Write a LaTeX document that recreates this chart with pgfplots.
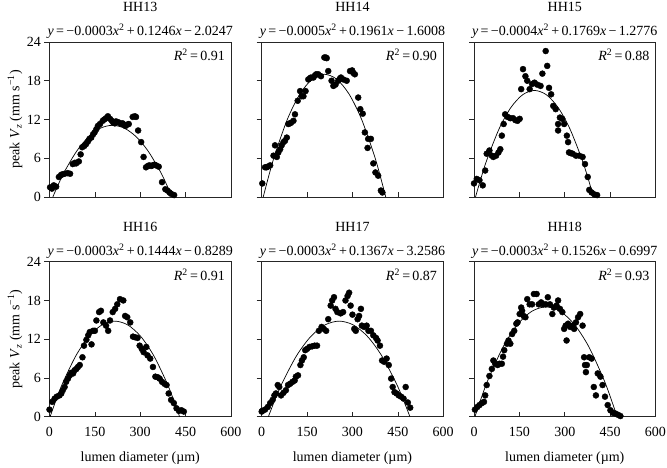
\documentclass[border=0pt]{standalone}
\usepackage{fontspec}
\setmainfont{Liberation Serif}
\usepackage{pgfplots}
\pgfplotsset{compat=1.18}

\newcommand{\fsz}{\fontsize{14}{16}\selectfont}
\pgfplotsset{
  panel/.style={
    scale only axis, width=181.5pt, height=155pt, anchor=south west,
    xmin=0, xmax=600, ymin=0, ymax=24,
    xtick={0,150,...,600}, ytick={0,6,...,24},
    xtick pos=bottom, ytick pos=left,
    xtick align=inside, ytick align=outside,
    major tick length=5pt,
    axis line style={line width=0.6pt, black!85},
    every tick/.style={line width=0.6pt, black!85},
    font=\fsz, tick label style={font=\fsz},
    xticklabel style={yshift=-6.5pt},
    /pgf/number format/assume math mode=true,
    clip=false,
    title style={at={(0.5,1)}, anchor=center, yshift=29pt},
    xlabel style={at={(rel axis cs:0.5,0)}, anchor=center, yshift=-41pt},
    ylabel style={at={(rel axis cs:0,0.5)}, anchor=center, yshift=34.5pt},
  },
  noy/.style={yticklabels={}},
  nox/.style={xticklabels={}},
  dots/.style={only marks, mark=*, mark size=3pt, black},
  fit/.style={no marks, smooth, black, line width=0.7pt},
}
\newcommand{\eqn}[1]{\node[inner sep=0pt] at (rel axis cs:0.5,1) [yshift=10.5pt] {#1};}
\newcommand{\rsq}[1]{\node[inner sep=0pt, anchor=north east] at (rel axis cs:1,1) [xshift=-6pt, yshift=-7pt] {\textit{R}\textsuperscript{2}\,=\,#1};}
\newcommand{\ylab}{peak \textit{V}\textsubscript{\textit{z}} (mm s\textsuperscript{−1})}
\newcommand{\xlab}{lumen diameter (µm)}

\begin{document}
\begin{tikzpicture}
\useasboundingbox (0,0) rectangle (667pt,467pt);

% HH13
\begin{axis}[panel, nox, at={(49.5pt,270pt)}, title={HH13}, ylabel={\ylab}]
\addplot[dots] table {
x y
2 1.5
8 1.3
14 1.8
22 1.6
31 3.1
38 3.4
42 3.5
50 3.6
60 3.7
68 3.6
77 5.1
84 5.3
88 5.2
97 5.5
103 6.6
108 7.7
115 7.9
121 8.2
127 8.6
132 9.0
138 9.2
144 9.7
149 10.0
155 10.5
160 11.0
167 11.3
176 11.8
181 12.0
187 12.2
193 12.5
200 12.1
206 11.8
211 11.5
216 11.4
220 11.7
225 11.6
231 11.5
237 11.3
242 11.4
251 11.0
257 11.2
262 11.3
275 12.4
282 12.5
286 12.4
293 10.3
303 8.5
311 6.2
319 4.6
325 4.8
330 4.9
336 4.8
341 4.9
347 5.0
352 4.9
361 4.7
372 2.3
383 1.2
390 1.0
397 0.7
402 0.5
412 0.3
};
\addplot[fit] coordinates {(11,0) (30.7,2.11) (50.4,4.00) (89.8,7.10) (129.2,9.32) (168.6,10.66) (208,11.1) (247.4,10.66) (286.8,9.32) (326.2,7.10) (365.6,4.00) (385.3,2.11) (405,0)};
\eqn{\textit{y}\,=\,−0.0003\textit{x}\textsuperscript{2}\,+\,0.1246\textit{x}\,−\,2.0247}
\rsq{0.91}
\end{axis}

% HH14
\begin{axis}[panel, noy, nox, at={(261.7pt,270pt)}, title={HH14}]
\addplot[dots] table {
x y
2 2.1
11 4.6
16 4.6
20 4.7
28 4.9
39 6.4
44 8.0
50 6.2
55 6.9
61 7.4
66 8.0
72 8.5
77 8.7
83 9.2
88 11.3
93 11.4
97 11.5
105 11.8
110 12.8
119 14.9
127 16.4
132 15.6
138 15.6
145 16.4
154 18.2
160 18.4
163 18.5
171 18.5
176 18.8
180 19.0
187 19.0
196 18.7
207 21.6
212 21.6
215 21.5
220 19.5
231 18.0
237 17.2
244 17.4
253 18.0
258 18.3
262 18.5
270 18.2
281 18.0
292 19.5
299 19.6
303 19.2
308 19.0
319 15.4
326 13.6
334 12.9
341 10.0
350 7.6
352 9.0
361 9.0
369 5.2
376 3.8
385 3.3
394 1.0
399 0.7
};
\addplot[fit] coordinates {(5,0) (25.3,3.61) (45.5,6.84) (86,12.16) (126.5,15.96) (167,18.24) (207.5,19.0) (248,18.24) (288.5,15.96) (329,12.16) (369.5,6.84) (389.8,3.61) (410,0)};
\eqn{\textit{y}\,=\,−0.0005\textit{x}\textsuperscript{2}\,+\,0.1961\textit{x}\,−\,1.6008}
\rsq{0.90}
\end{axis}

% HH15
\begin{axis}[panel, noy, nox, at={(474pt,270pt)}, title={HH15}]
\addplot[dots] table {
x y
0 2.1
9 2.8
18 2.6
29 1.8
37 4.1
42 6.7
51 7.2
59 6.4
64 6.2
73 6.4
81 6.9
87 7.4
92 9.5
98 11.3
103 12.8
111 12.4
120 12.2
129 12.2
137 11.9
144 11.8
151 12.1
156 16.7
162 19.8
170 18.7
176 18.0
184 16.7
192 17.5
200 17.7
209 17.4
220 17.2
226 19.1
237 22.6
242 20.3
248 16.9
255 15.9
262 14.1
270 13.6
278 11.3
278 10.3
284 12.3
292 12.1
298 11.3
307 9.5
311 8.5
314 6.9
320 6.8
326 6.7
337 6.4
348 6.4
359 6.2
367 5.1
376 3.1
381 1.1
389 0.7
398 0.4
407 0.3
};
\addplot[fit] coordinates {(5,0) (24.5,3.14) (44,5.94) (83,10.56) (122,13.86) (161,15.84) (200,16.5) (239,15.84) (278,13.86) (317,10.56) (356,5.94) (375.5,3.14) (395,0)};
\eqn{\textit{y}\,=\,−0.0004\textit{x}\textsuperscript{2}\,+\,0.1769\textit{x}\,−\,1.2776}
\rsq{0.88}
\end{axis}

% HH16
\begin{axis}[panel, at={(49.5pt,50.3pt)}, title={HH16}, ylabel={\ylab}, xlabel={\xlab}]
\addplot[dots] table {
x y
0 1.1
9 2.3
17 2.8
24 3.1
33 3.3
39 3.6
44 4.1
50 4.6
55 5.4
61 5.9
67 6.4
72 6.8
78 6.7
83 7.2
89 7.4
94 7.7
100 8.0
109 9.2
114 11.0
122 11.9
128 12.6
133 13.1
139 11.2
144 13.3
150 13.3
155 14.9
164 16.2
170 16.4
178 14.6
187 14.1
194 13.3
200 14.9
209 16.2
217 16.7
224 17.4
233 18.2
244 18.0
250 15.6
257 15.4
267 14.6
276 12.4
283 12.3
291 12.2
298 11.0
305 10.5
311 10.0
320 10.8
324 9.5
333 9.0
342 7.7
350 6.2
358 6.1
364 5.9
372 5.4
380 5.1
387 4.9
394 3.6
402 2.6
411 2.1
420 1.3
428 0.9
436 1.0
444 0.8
};
\addplot[fit] coordinates {(2,0) (23.4,2.81) (44.8,5.33) (87.6,9.47) (130.4,12.43) (173.2,14.21) (216,14.8) (258.8,14.21) (301.6,12.43) (344.4,9.47) (387.2,5.33) (408.6,2.81) (430,0)};
\eqn{\textit{y}\,=\,−0.0003\textit{x}\textsuperscript{2}\,+\,0.1444\textit{x}\,−\,0.8289}
\rsq{0.91}
\end{axis}

% HH17
\begin{axis}[panel, noy, at={(261.7pt,50.3pt)}, title={HH17}, xlabel={\xlab}]
\addplot[dots] table {
x y
0 0.8
2 0.9
11 1.1
20 1.5
28 2.1
36 2.6
42 3.3
47 3.6
53 4.9
58 4.6
64 3.3
72 3.7
80 4.1
87 4.9
94 5.1
102 5.4
109 5.6
113 6.2
120 6.4
128 8.0
133 8.7
139 9.2
144 10.3
150 10.5
158 10.8
167 10.9
175 11.0
183 11.0
189 13.3
198 13.9
205 13.6
213 13.3
220 15.1
228 17.2
233 18.0
239 18.5
244 16.7
250 16.2
261 16.0
269 16.2
277 18.0
284 18.7
289 19.2
294 17.2
300 15.8
306 13.6
311 13.3
317 15.1
322 15.6
328 16.7
331 14.1
339 13.9
347 14.1
353 13.3
361 13.3
369 12.6
378 12.2
383 11.8
391 11.0
398 8.7
405 8.5
413 9.0
420 8.0
428 5.9
433 4.6
439 3.8
446 3.6
453 3.3
461 3.1
469 2.8
476 4.6
483 2.2
491 1.4
};
\addplot[fit] coordinates {(22,0) (45.4,2.81) (68.8,5.33) (115.6,9.47) (162.4,12.43) (209.2,14.21) (256,14.8) (302.8,14.21) (349.6,12.43) (396.4,9.47) (443.2,5.33) (466.6,2.81) (490,0)};
\eqn{\textit{y}\,=\,−0.0003\textit{x}\textsuperscript{2}\,+\,0.1367\textit{x}\,−\,3.2586}
\rsq{0.87}
\end{axis}

% HH18
\begin{axis}[panel, noy, at={(474pt,50.3pt)}, title={HH18}, xlabel={\xlab}]
\addplot[dots] table {
x y
3 1.1
11 1.5
18 1.8
26 2.1
33 2.3
37 3.3
42 4.9
51 6.3
59 7.4
64 8.7
70 8.2
78 8.0
84 8.2
92 8.2
96 9.3
100 10.3
109 11.3
114 11.8
120 11.3
126 12.8
133 13.3
140 14.4
144 14.6
151 15.9
156 16.9
159 16.4
164 15.6
170 15.4
176 18.2
184 17.4
192 17.4
198 19.0
207 19.0
214 17.4
222 17.7
229 17.4
237 17.4
244 18.5
251 17.4
259 15.9
264 16.9
273 17.2
278 18.0
284 16.7
292 16.2
298 13.6
303 14.1
306 11.8
311 14.4
318 13.9
326 14.1
331 13.6
337 14.6
344 15.4
351 15.9
359 14.1
364 9.2
367 8.0
370 6.9
373 8.0
381 9.2
389 9.0
396 4.6
403 3.3
409 6.7
418 6.2
425 4.9
433 3.1
442 1.8
451 1.0
459 0.6
467 0.5
476 0.3
484 0.1
};
\addplot[fit] coordinates {(3,0) (26.5,3.23) (50,6.12) (97,10.88) (144,14.28) (191,16.32) (238,17.0) (285,16.32) (332,14.28) (379,10.88) (426,6.12) (449.5,3.23) (473,0)};
\eqn{\textit{y}\,=\,−0.0003\textit{x}\textsuperscript{2}\,+\,0.1526\textit{x}\,−\,0.6997}
\rsq{0.93}
\end{axis}
\end{tikzpicture}
\end{document}
